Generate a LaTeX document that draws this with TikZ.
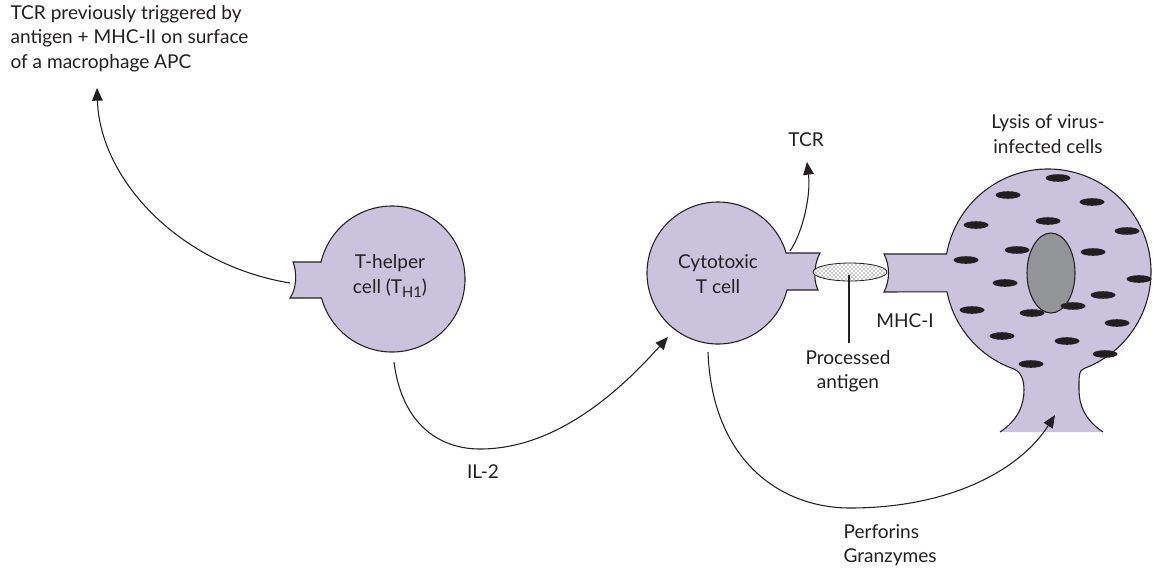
\documentclass[tikz,border=0pt]{standalone}
\usepackage{fontspec}
\setmainfont{Lato}
\usetikzlibrary{arrows.meta,patterns}
\definecolor{ink}{HTML}{231F20}
\definecolor{cellfill}{HTML}{CBC3DE}
\definecolor{nucleusgray}{HTML}{939598}
\newcommand{\subsz}{\fontsize{11}{12}\selectfont}

\begin{document}
\begin{tikzpicture}[x=0.75pt,y=-0.75pt,color=ink,line width=0.8pt,
  cell/.style={draw=ink,fill=cellfill,line width=0.8pt},
  conn/.style={draw=ink,line width=0.8pt,-{Triangle[length=9.5pt,width=8pt]}},
  lbl/.style={font=\fontsize{14.3}{18.3}\selectfont,text=ink,align=center,inner sep=0pt},
  spot/.style={fill=ink},
  antigenbody/.style={draw=ink,line width=0.6pt,preaction={fill=white},pattern=crosshatch dots,pattern color=ink}]

\useasboundingbox (0,0) rectangle (1153,569);

% cell centres
\coordinate (th) at (392,279);
\coordinate (ct) at (718,273);
\coordinate (vc) at (1048,272);

% T-helper cell with its receptor
\draw[cell] (th) ++(193.47:73) arc[start angle=193.47,end angle=524.91,radius=73]
  -- (290,298) .. controls (297,288) and (297,272) .. (293,262) -- cycle;

% cytotoxic T cell with its TCR
\draw[cell] (ct) ++(13.85:71) arc[start angle=13.85,end angle=343.64,radius=71]
  -- (820,253) .. controls (814,264) and (813,280) .. (818,290) -- cycle;

% virus-infected cell: body, MHC-I stub and stem (bottom edge left open)
\draw[cell] (1000,432) .. controls (1018,420) and (1024,405) .. (1024,390)
  .. controls (1024,378) and (1019.6,371) .. (1014,369)
  arc[start angle=109.3,end angle=168.8,radius=103]
  -- (884,292) .. controls (890,281) and (890,265) .. (884,254)
  -- (946.6,254) arc[start angle=190.06,end angle=429.5,radius=103]
  .. controls (1078.4,370.5) and (1079,378) .. (1079,390)
  .. controls (1079,405) and (1085,420) .. (1103,432);

% viral particles and nucleus
\fill[spot] (1017,250) ellipse[x radius=12.5,y radius=3.8];
\draw[fill=nucleusgray,line width=0.8pt] (1051,273) ellipse[x radius=24,y radius=40];
\foreach \px/\py in {1058/178,1008/195,1092/202,1048/221,976/225,1127/231,
  1093/252,966/260,1139/279,1005/283,1103/295,1073/306,1032/313,972/310,
  1117/323,1002/336,1067/341,1105/354,1031/364}
  \fill[spot] (\px,\py) ellipse[x radius=12.5,y radius=3.8];

% processed antigen between TCR and MHC-I
\draw[antigenbody] (850,272) ellipse[x radius=37,y radius=9];
\coordinate (agc) at (849,275);
\coordinate (agl) at (849,343);
\draw (agc) -- (agl);

% labels
\node[lbl,align=left,anchor=north west] (apclbl) at (10,5)
  {TCR previously triggered by\\antigen + MHC-II on surface\\of a macrophage APC};
\node[lbl] (thlbl) at (390,276) {T-helper\\cell (T\raisebox{-0.45ex}{\subsz H1})};
\node[lbl] (ctlbl) at (718,274) {Cytotoxic\\T cell};
\node[lbl] (tcrlbl) at (806,140) {TCR};
\node[lbl] (aglbl) at (848,371) {Processed\\antigen};
\node[lbl] (mhclbl) at (905,321) {MHC-I};
\node[lbl] (lysislbl) at (1048,134) {Lysis of virus-\\infected cells};
\node[lbl] (il2lbl) at (483,472) {IL-2};
\node[lbl,align=left,anchor=west] (pglbl) at (843,545) {Perforins\\Granzymes};

% connector end points
\coordinate (thstub) at (290,283);
\coordinate (apc) at (97,88);
\coordinate (tcrbase) at (790,251);
\coordinate (tcrtip) at (807,162);
\coordinate (il2start) at (394,362);
\coordinate (il2tip) at (668,337);
\coordinate (pgstart) at (708,352);
\coordinate (pgtip) at (1055,415);

% connectors
\draw[conn] (thstub) .. controls (180,265) and (100,180) .. (apc);
\draw[conn] (tcrbase) .. controls (803,232) and (811,195) .. (tcrtip);
\draw[conn] (il2start) .. controls (402,425) and (440,449) .. (480,449)
  .. controls (560,449) and (625,385) .. (il2tip);
\draw[conn] (pgstart) .. controls (712,460) and (780,508) .. (850,508)
  .. controls (950,508) and (1020,470) .. (pgtip);
\end{tikzpicture}
\end{document}
